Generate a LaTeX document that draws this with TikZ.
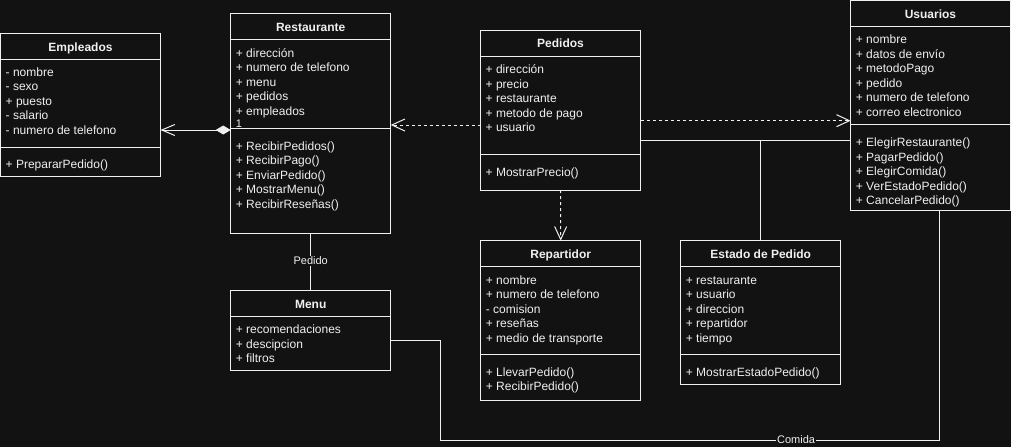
\documentclass[tikz,border=0pt]{standalone}
\usepackage{fontspec}
\setmainfont{Liberation Sans}
\usetikzlibrary{arrows.meta}
\definecolor{bg}{HTML}{121212}
\definecolor{fg}{HTML}{F0F0F0}
% #1 name, #2 left, #3 top, #4 width, #5 height, #6 title
\newcommand\ucls[6]{%
  \node[cls, minimum width=#4pt, minimum height=#5pt, anchor=north west] (#1) at (#2,#3) {};
  \draw[ln] ([yshift=-26pt]#1.north west) -- ([yshift=-26pt]#1.north east);
  \node[ttl] at ([yshift=-14.6pt]#1.north) {#6};
}
% #1 name, #2 offset of separator from top
\newcommand\usep[2]{%
  \draw[ln] ([yshift=-#2pt]#1.north west) -- ([yshift=-#2pt]#1.north east);
}
% #1 name, #2 offset of first line centre from top, #3 list
\newcommand\ulines[3]{%
  \foreach \itm [count=\i] in {#3} {%
    \pgfmathsetmacro\yy{#2+1.4+(\i-1)*14.45}
    \node[txt] at ([xshift=5pt, yshift=-\yy pt]#1.north west) {\itm};
  }%
}
\begin{document}
\begin{tikzpicture}[x=1pt,y=-1pt,
  ln/.style={draw=fg, line width=1pt},
  cls/.style={rectangle, draw=fg, fill=bg, line width=1pt, inner sep=0pt, outer sep=0pt},
  txt/.style={anchor=west, inner sep=0pt, text=fg, font=\fontsize{12}{14}\selectfont, text height=8.6pt, text depth=2.4pt},
  ttl/.style={inner sep=0pt, text=fg, font=\bfseries\fontsize{12}{14}\selectfont, text height=8.6pt, text depth=2.4pt},
  lbl/.style={inner sep=1pt, fill=bg, text=fg, font=\fontsize{11}{13}\selectfont},
  dep/.style={draw=fg, line width=1pt, dash pattern=on 3pt off 3pt, -{Straight Barb[length=13pt,width=12pt]}},
  aggr/.style={draw=fg, line width=1pt, {Diamond[length=15pt,width=9pt,fill=fg]}-{Straight Barb[length=13pt,width=11pt]}},
  assoc/.style={draw=fg, line width=1pt},
]
\fill[bg] (0,0) rectangle (1011,447);
\useasboundingbox (0,0) rectangle (1011,447);

% Empleados
\ucls{emp}{0.5}{33.3}{160}{143.4}{Empleados}
\usep{emp}{114}
\ulines{emp}{38.7}{- nombre,- sexo,+ puesto,- salario,- numero de telefono}
\ulines{emp}{130.7}{+ PrepararPedido()}

% Restaurante
\ucls{rest}{230.7}{13.3}{160}{220}{Restaurante}
\usep{rest}{114.7}
\ulines{rest}{39.4}{+ dirección,+ numero de telefono,+ menu,+ pedidos,+ empleados}
\ulines{rest}{132.7}{+ RecibirPedidos(),+ RecibirPago(),+ EnviarPedido(),+ MostrarMenu(),+ RecibirReseñas()}

% Pedidos
\ucls{ped}{480.5}{30}{160}{160}{Pedidos}
\usep{ped}{124.3}
\ulines{ped}{39.3}{+ dirección,+ precio,+ restaurante,+ metodo de pago,+ usuario}
\ulines{ped}{141.7}{+ MostrarPrecio()}

% Usuarios
\ucls{usu}{850.7}{0.7}{159.5}{209.3}{Usuarios}
\usep{usu}{123.6}
\ulines{usu}{38.6}{+ nombre,+ datos de envío,+ metodoPago,+ pedido,+ numero de telefono,+ correo electronico}
\ulines{usu}{141.6}{+ ElegirRestaurante(),+ PagarPedido(),+ ElegirComida(),+ VerEstadoPedido(),+ CancelarPedido()}

% Repartidor
\ucls{rep}{480.7}{240.7}{160}{159.3}{Repartidor}
\usep{rep}{114}
\ulines{rep}{39.3}{+ nombre,+ numero de telefono,- comision,+ reseñas,+ medio de transporte}
\ulines{rep}{131.3}{+ LlevarPedido(),+ RecibirPedido()}

% Menu
\ucls{menu}{230.7}{290.7}{160}{79.3}{Menu}
\ulines{menu}{38.6}{+ recomendaciones,+ descipcion,+ filtros}

% Estado de Pedido
\ucls{est}{680.7}{240.7}{160}{144}{Estado de Pedido}
\usep{est}{114}
\ulines{est}{39.3}{+ restaurante,+ usuario,+ direccion,+ repartidor,+ tiempo}
\ulines{est}{131.3}{+ MostrarEstadoPedido()}

% connectors
\coordinate (aggS) at ([yshift=-6.7pt]rest.west);
\draw[aggr] (aggS) -- (emp.east |- aggS);
\node[txt, font=\fontsize{11}{13}\selectfont] at ([xshift=5pt, yshift=5.5pt]aggS) {1};

\coordinate (pr) at ([yshift=-15pt]ped.west);
\draw[dep] (pr) -- (rest.east |- pr);

\coordinate (pu) at ([yshift=-10.7pt]ped.east);
\draw[dep] (pu) -- (usu.west |- pu);

\coordinate (ps) at ([yshift=-30.7pt]ped.east);
\draw[assoc] (ps) -- (usu.west |- ps);
\draw[assoc] (est.north) -- (est.north |- ps);

\draw[dep] (ped.south) -- (rep.north);

\draw[assoc] (rest.south) -- node[lbl, pos=0.48] {Pedido} (menu.north);

\coordinate (m1) at ([yshift=-9.7pt]menu.east);
\coordinate (u1) at ([xshift=9pt]usu.south);
\draw[assoc] (m1) -- ++(49.3,0) -- ++(0,100) coordinate (c1)
  -- node[lbl, pos=0.713] {Comida} (c1 -| u1) -- (u1);
\end{tikzpicture}
\end{document}
